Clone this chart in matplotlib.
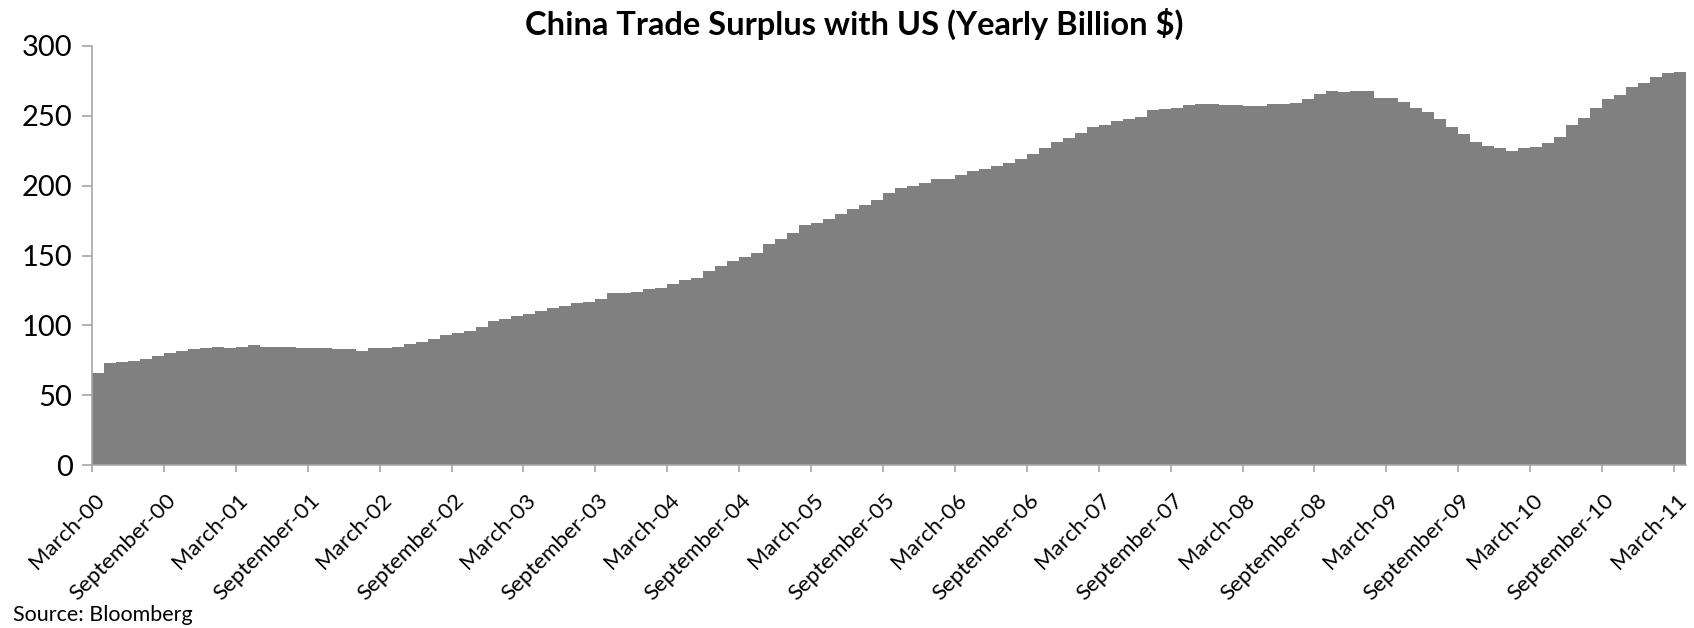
import numpy as np
import matplotlib
matplotlib.use("Agg")
import matplotlib.pyplot as plt
import matplotlib.transforms as mtransforms

plt.rcParams['font.family'] = ['Lato', 'DejaVu Sans']

# monthly values, March-00 .. March-11 (billion $, rolling 12m)
surplus = [66.2, 72.9, 73.8, 74.8, 76.2, 78.3, 80.2, 81.9, 82.9, 83.8,
           84.8, 83.8, 84.8, 85.7, 84.8, 84.8, 84.8, 83.8, 83.8, 83.8,
           82.9, 82.9, 81.9, 83.8, 83.8, 84.8, 86.7, 88.3, 90.2, 93.1,
           94.8, 95.7, 98.6, 103.1, 104.5, 106.4, 108.3, 110.2, 112.1, 113.6,
           115.7, 116.7, 118.6, 122.9, 123.3, 124.0, 125.7, 126.9, 129.5, 132.4,
           134.0, 138.8, 142.4, 146.0, 148.8, 151.7, 157.9, 161.7, 166.2, 171.7,
           173.3, 176.2, 179.8, 183.3, 186.4, 189.8, 194.4, 198.2, 200.0, 201.9,
           204.8, 204.8, 207.4, 210.2, 211.9, 213.8, 216.2, 219.3, 222.9, 226.7,
           231.2, 234.0, 237.6, 242.1, 243.1, 246.0, 247.6, 249.5, 254.0, 255.0,
           255.9, 257.6, 258.8, 258.8, 258.1, 257.6, 256.9, 256.9, 258.6, 258.7,
           259.5, 262.1, 265.9, 267.6, 266.9, 267.6, 267.6, 263.1, 263.1, 259.8,
           255.9, 252.4, 247.6, 241.9, 236.7, 231.2, 228.3, 226.7, 224.8, 226.9,
           227.6, 230.2, 234.8, 243.1, 248.6, 255.7, 262.1, 265.0, 270.5, 273.3,
           277.6, 280.5, 281.4]

tick_labels = ['March-00', 'September-00', 'March-01', 'September-01',
               'March-02', 'September-02', 'March-03', 'September-03',
               'March-04', 'September-04', 'March-05', 'September-05',
               'March-06', 'September-06', 'March-07', 'September-07',
               'March-08', 'September-08', 'March-09', 'September-09',
               'March-10', 'September-10', 'March-11']

n = len(surplus)
x = np.arange(n)

fig = plt.figure(figsize=(16.94, 6.28), dpi=100)
ax = fig.add_axes([92/1694, 1-465/628, (1686-92)/1694, (465-46)/628])

ax.bar(x, surplus, width=1.0, align='edge', color='#808080', linewidth=0)

ax.set_xlim(0, n)
ax.set_ylim(0, 300)
ax.set_yticks([0, 50, 100, 150, 200, 250, 300])
ax.set_xticks(np.arange(0, n, 6))
ax.set_xticklabels(tick_labels, rotation=45, ha='right', va='center',
                   rotation_mode='anchor', fontsize=16)

axcol = '#a6a6a6'
for s in ['top', 'right']:
    ax.spines[s].set_visible(False)
for s in ['left', 'bottom']:
    ax.spines[s].set_color(axcol)
    ax.spines[s].set_linewidth(1.2)
ax.tick_params(axis='x', direction='out', length=5, width=1.2, color=axcol, pad=18)
ax.tick_params(axis='y', direction='out', length=7, width=1.2, color=axcol,
               labelsize=21, pad=7)

# shift the rotated labels a bit right, like the original
off = mtransforms.ScaledTranslation(9/100, 0, fig.dpi_scale_trans)
for lab in ax.get_xticklabels():
    lab.set_transform(lab.get_transform() + off)

fig.text(0.504, 1-24/628, 'China Trade Surplus with US (Yearly Billion $)',
         ha='center', va='center', fontsize=23.5, fontweight='bold')
fig.text(13/1694, 1-621/628, 'Source: Bloomberg', ha='left', va='baseline',
         fontsize=15.5)

fig.savefig('out.png', dpi=100)
